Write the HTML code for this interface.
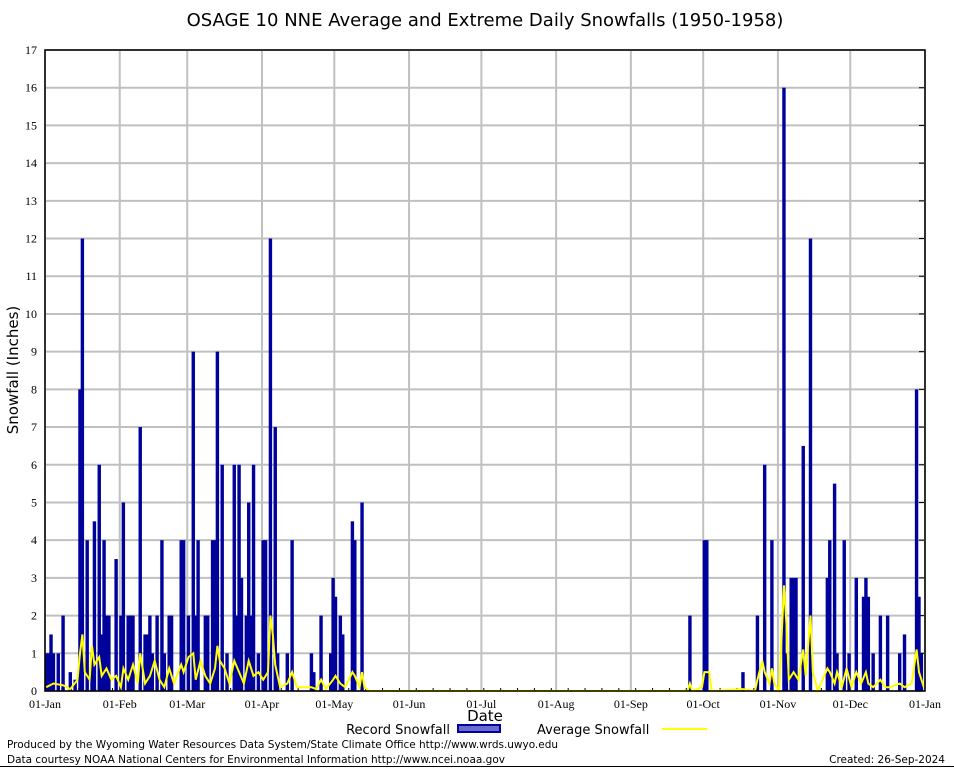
<!DOCTYPE html>
<html><head><meta charset="utf-8"><style>
body{margin:0;background:#fff;}
svg{display:block;}
.t{font-family:"DejaVu Sans","Liberation Sans",sans-serif;}
.s{font-family:"Liberation Serif",serif;font-size:12px;}
</style></head><body>
<svg id="c" width="954" height="768" xmlns="http://www.w3.org/2000/svg">
<rect width="954" height="768" fill="#fff"/>
<text class="t" x="485" y="26" font-size="18" text-anchor="middle">OSAGE 10 NNE Average and Extreme Daily Snowfalls (1950-1958)</text>
<text class="t" x="18" y="370" font-size="15" text-anchor="middle" transform="rotate(-90 18 370)">Snowfall (Inches)</text>
<text class="t" x="485" y="721" font-size="15" text-anchor="middle">Date</text>
<g>
<text class="t" x="450" y="734" font-size="13" text-anchor="end">Record Snowfall</text>
<rect x="458" y="725" width="42" height="7" fill="#6a6ad0" stroke="#00009b" stroke-width="2"/>
<text class="t" x="537" y="734" font-size="13">Average Snowfall</text>
<line x1="662" y1="729" x2="707" y2="729" stroke="#ffff00" stroke-width="2"/>
</g>
<text class="t" x="7" y="748" font-size="10.5" textLength="551">Produced by the Wyoming Water Resources Data System/State Climate Office http://www.wrds.uwyo.edu</text>
<text class="t" x="7" y="763" font-size="10.5" textLength="498">Data courtesy NOAA National Centers for Environmental Information http://www.ncei.noaa.gov</text>
<text class="t" x="945" y="763" font-size="10.5" text-anchor="end">Created:  26-Sep-2024</text>
<line x1="0" y1="766.5" x2="954" y2="766.5" stroke="#000" stroke-width="1"/>
<g id="plot"></g>
</svg>
<script>
const recDays=[0,1,2,3,5,7,10,12,14,15,17,19,20,22,23,24,25,26,29,31,32,34,35,36,39,41,42,43,44,46,48,49,51,52,56,57,59,61,62,63,66,67,69,70,71,73,75,78,79,80,81,83,84,85,86,88,90,91,93,95,96,100,102,110,111,114,118,119,120,122,123,127,128,131,
267,273,274,289,295,298,301,306,307,309,310,311,314,317,324,325,327,328,331,333,336,339,340,341,343,346,349,354,356,361,362,363];
const recVals=[1,1,1.5,1,1,2,0.5,0.3,8,12,4,1,4.5,6,1.5,4,2,2,3.5,2,5,2,2,2,7,1.5,1.5,2,1,2,4,1,2,2,4,4,2,9,2,4,2,2,4,4,9,6,1,6,2,6,3,2,5,2,6,1,4,4,12,7,1,1,4,1,0.5,2,1,3,2.5,2,1.5,4.5,4,5,
2,4,4,0.5,2,6,4,16,1,3,3,3,6.5,12,3,4,5.5,1,4,1,3,2.5,3,2.5,1,2,2,1,1.5,8,2.5,1];
const avgDays=[0,3,7,10,13,14,15,16,18,19,20,22,23,25,27,29,31,32,34,36,38,39,41,43,45,47,49,51,53,56,57,59,61,62,64,66,68,70,71,72,74,76,78,80,82,84,86,88,90,92,93,94,95,97,100,102,104,110,112,114,116,119,120,122,124,127,128,130,131,132,134,
266,267,268,272,273,275,276,289,294,295,297,298,300,301,302,304,306,307,308,310,312,314,315,317,318,320,324,325,327,328,330,332,334,336,338,340,341,343,346,348,350,354,356,359,361,362,364];
const avgVals=[0.1,0.2,0.15,0.05,0.3,1.0,1.5,0.5,0.3,1.2,0.7,0.9,0.4,0.6,0.3,0.4,0.1,0.6,0.3,0.7,0.2,1.0,0.2,0.4,0.8,0.3,0.1,0.6,0.2,0.7,0.5,0.9,1.0,0.3,0.8,0.4,0.2,0.6,1.2,0.8,0.6,0.2,0.8,0.5,0.2,0.8,0.4,0.5,0.3,0.5,2.0,1.5,0.7,0.1,0.2,0.5,0.1,0.1,0.05,0.3,0.05,0.3,0.4,0.2,0.1,0.5,0.4,0.1,0.5,0.1,0,
0,0.2,0,0.1,0.5,0.5,0,0.05,0,0.3,0.8,0.5,0.2,0.6,0.2,0,2.8,1.8,0.3,0.5,0.3,1.1,0.4,2.0,0.5,0,0.6,0.5,0.2,0.5,0.1,0.6,0.1,0.5,0.2,0.5,0.2,0.1,0.3,0.1,0.1,0.2,0.1,0.2,1.1,0.5,0.1];
const monthLabels=["01-Jan","01-Feb","01-Mar","01-Apr","01-May","01-Jun","01-Jul","01-Aug","01-Sep","01-Oct","01-Nov","01-Dec","01-Jan"];
const monthStarts=[0,31,59,90,120,151,181,212,243,273,304,334,365];
const yTicks=[0,1,2,3,4,5,6,7,8,9,10,11,12,13,14,15,16,17];
const L=45,R=925,T=50,B=691,YMAX=17;
const xs=d=>L+d*(R-L)/365;
const ys=v=>B-v*(B-T)/YMAX;
const NS="http://www.w3.org/2000/svg";
const g=document.getElementById('plot');
function mk(tag,attrs){const e=document.createElementNS(NS,tag);for(const k in attrs)e.setAttribute(k,attrs[k]);g.appendChild(e);return e;}
yTicks.forEach(v=>{
 const l=mk('line',{x1:L,x2:R,y1:ys(v),y2:ys(v),stroke:'#c0c0c0','stroke-width':2});
 
 
 const t=mk('text',{x:L-8,y:ys(v)+4,'text-anchor':'end',class:'s','font-size':11});
 t.textContent=v;
 
 
 const tk=mk('line',{x1:R-6,x2:R,y1:ys(v),y2:ys(v),stroke:'#000'});
 
 
});
monthStarts.forEach((d,i)=>{
 const l=mk('line',{x1:xs(d),x2:xs(d),y1:T,y2:B,stroke:'#c0c0c0','stroke-width':2});
 
 
 const t=mk('text',{x:xs(d),y:708,'text-anchor':'middle',class:'s'});
 t.textContent=monthLabels[i];
 
 
});
for(let d=0;d<=365;d+=7){
 const tk=mk('line',{x1:xs(d),x2:xs(d),y1:B-3,y2:B,stroke:'#000'});
 
 
}
const bw=(R-L)/365+1;
recDays.forEach((d,i)=>{
 const r=mk('rect',{x:xs(d)-0.5,y:ys(recVals[i]),width:bw,height:B-ys(recVals[i]),fill:'#00009b'});
 
 
});
let pts=avgDays.map((d,i)=>xs(d+0.5).toFixed(1)+','+ys(avgVals[i]).toFixed(1)).join(' ');
const pl=mk('polyline',{points:pts,fill:'none',stroke:'#ffff00','stroke-width':2});


const fr=mk('rect',{x:L,y:T,width:R-L,height:B-T,fill:'none',stroke:'#000','stroke-width':1.5});


</script>
</body></html>
